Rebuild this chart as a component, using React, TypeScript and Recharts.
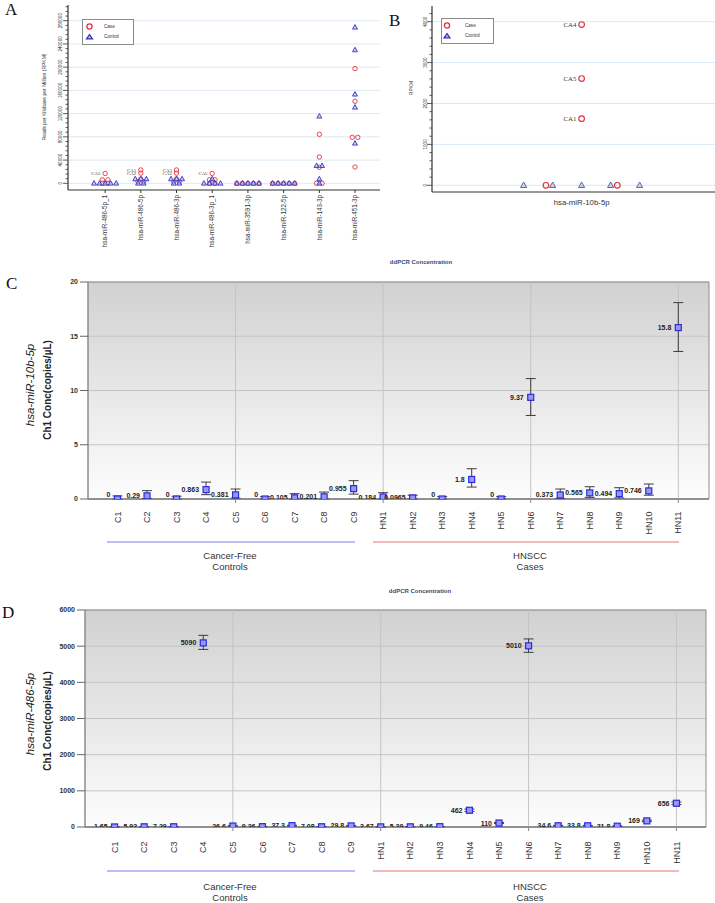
import React from "react";
import {
  CartesianGrid,
  ErrorBar,
  Legend,
  ReferenceArea,
  ReferenceLine,
  Scatter,
  ScatterChart,
  XAxis,
  YAxis,
} from "recharts";

// ---------- Panel A: small RNA-seq, cases vs controls ----------
const aCategories = [
  "hsa-miR-486-5p_1",
  "hsa-miR-486-5p",
  "hsa-miR-486-3p",
  "hsa-miR-486-3p_1",
  "hsa-miR-3591-3p",
  "hsa-miR-122-5p",
  "hsa-miR-143-3p",
  "hsa-miR-451-3p",
];
const aCase = [
  [17000, 6000, 6000, 0, 0],
  [23000, 17500, 7500, 3000, 3000],
  [23000, 17500, 7500, 3000, 3000],
  [17000, 6000, 6000, 0, 0],
  [0, 0, 0, 0, 0],
  [0, 0, 0, 0, 0],
  [84400, 45300, 27600, 0, 0],
  [197500, 141200, 79200, 79200, 28100],
];
const aCaseTags = [["CA5"], ["CA5", "CA2"], ["CA5", "CA2"], ["CA5"], [], [], [], []];
const aControl = [
  [0, 0, 0, 0, 0],
  [7500, 7500, 7500, 0, 0],
  [7500, 7500, 7500, 0, 0],
  [7500, 0, 0, 0, 0],
  [0, 0, 0, 0, 0],
  [0, 0, 0, 0, 0],
  [115400, 30400, 30400, 7500, 0],
  [268600, 229600, 153300, 130900, 68900],
];
const aMajorTicks = [0, 40000, 80000, 120000, 160000, 200000, 240000, 280000];

// ---------- Panel B: hsa-miR-10b-5p RPKM ----------
const bCategory = "hsa-miR-10b-5p";
const bCase = [3930, 2610, 1630, 0, 0];
const bCaseTags = ["CA4", "CA5", "CA1"];
const bControl = [0, 0, 0, 0, 0];
const bMajorTicks = [0, 1000, 2000, 3000, 4000];

// ---------- Panels C / D: ddPCR ----------
const ddSamples = [
  "C1", "C2", "C3", "C4", "C5", "C6", "C7", "C8", "C9",
  "HN1", "HN2", "HN3", "HN4", "HN5", "HN6", "HN7", "HN8", "HN9", "HN10", "HN11",
];
const cConc = [0, 0.29, 0, 0.863, 0.381, 0, 0.105, 0.201, 0.955, 0.184, 0.0965, 0, 1.8, 0, 9.37, 0.373, 0.565, 0.494, 0.746, 15.8];
const cLow = [0, 0.05, 0, 0.4, 0.08, 0, 0, 0, 0.45, 0, 0, 0, 1.1, 0, 7.7, 0.05, 0.15, 0.1, 0.35, 13.6];
const cHigh = [0.28, 0.77, 0.25, 1.56, 0.92, 0.22, 0.49, 0.64, 1.69, 0.58, 0.35, 0.22, 2.79, 0.22, 11.1, 0.92, 1.13, 1.04, 1.38, 18.1];
const cTicks = [0, 5, 10, 15, 20];

const dConc = [1.65, 5.93, 7.29, 5090, 26.6, 9.36, 37.3, 7.08, 29.8, 3.67, 5.39, 9.46, 462, 110, 5010, 34.6, 33.8, 21.8, 169, 656];
const dLow = [0.5, 3.5, 4.5, 4910, 18, 6, 27, 4.5, 21, 1.8, 3, 6, 430, 95, 4830, 25, 24, 14, 150, 620];
const dHigh = [3, 8.5, 10, 5300, 36, 13, 48, 10, 39, 5.8, 8, 13, 495, 126, 5200, 45, 44, 30, 190, 692];
const dTicks = [0, 1000, 2000, 3000, 4000, 5000, 6000];

const groupBreaks = [4, 9, 14, 19];

const sans = "'Liberation Sans', Arial, sans-serif";
const serif = "'Liberation Serif', 'Times New Roman', serif";

// spread identical values side by side (simple beeswarm)
function swarm(vals: number[], step: number) {
  const counts = new Map<number, number>();
  vals.forEach((v) => counts.set(v, (counts.get(v) ?? 0) + 1));
  const seen = new Map<number, number>();
  return vals.map((v) => {
    const n = counts.get(v) ?? 1;
    const k = seen.get(v) ?? 0;
    seen.set(v, k + 1);
    return (k - (n - 1) / 2) * step;
  });
}

const aCaseData = aCategories.flatMap((_, i) => {
  const off = swarm(aCase[i], 0.155);
  return aCase[i].map((v, k) => ({ x: i + off[k], y: v, tag: aCaseTags[i][k] ?? "" }));
});
const aControlData = aCategories.flatMap((_, i) => {
  const off = swarm(aControl[i], 0.155);
  return aControl[i].map((v, k) => ({ x: i + off[k], y: v }));
});

const bCaseOff = swarm(bCase, 2.46);
const bCaseData = bCase.map((v, k) => ({ x: bCaseOff[k], y: v, tag: bCaseTags[k] ?? "" }));
const bControlOff = swarm(bControl, 1);
const bControlData = bControl.map((v, k) => ({ x: bControlOff[k], y: v }));

const cData = ddSamples.map((_, i) => ({
  x: i,
  y: cConc[i],
  err: [cConc[i] - cLow[i], cHigh[i] - cConc[i]],
  label: String(cConc[i]),
}));
const dData = ddSamples.map((_, i) => ({
  x: i,
  y: dConc[i],
  err: [dConc[i] - dLow[i], dHigh[i] - dConc[i]],
  label: String(dConc[i]),
}));

const range = (a: number, b: number, s: number) => {
  const out: number[] = [];
  for (let v = a; v <= b; v += s) out.push(v);
  return out;
};

// ---------- shapes ----------
const caseCircle = (r: number, sw: number, fs: number) => (p: any) => (
  <g>
    <circle cx={p.cx} cy={p.cy} r={r} fill="none" stroke="#e4323c" strokeWidth={sw} />
    {p.payload?.tag ? (
      <text x={p.cx - r - 2.5} y={p.cy + fs * 0.35} textAnchor="end" fontSize={fs} fontFamily={serif} fill="#333">
        {p.payload.tag}
      </text>
    ) : null}
  </g>
);

const controlTriangle = (s: number, fill: string, stroke: string) => (p: any) => (
  <polygon
    points={`${p.cx},${p.cy - s * 0.6} ${p.cx - s * 0.55},${p.cy + s * 0.4} ${p.cx + s * 0.55},${p.cy + s * 0.4}`}
    fill={fill}
    fillOpacity={0.6}
    stroke={stroke}
    strokeWidth={0.9}
  />
);

const sampleMarker = (p: any) => {
  const raise = p.payload?.y === 0 ? -5 : 0;
  return (
    <g>
      <rect x={p.cx - 3} y={p.cy - 3} width={6} height={6} fill="#9797f4" stroke="#2b2bd9" strokeWidth={1.2} />
      <text x={p.cx - 7} y={p.cy + 2.5 + raise} textAnchor="end" fontSize={7} fontWeight={700} fill="#222" fontFamily={sans}>
        {p.payload?.label}
      </text>
    </g>
  );
};

// ---------- ticks ----------
const makeYTick = (majors: number[], labelGap: number, fs: number) => (props: any) => {
  const { x, y, payload } = props;
  const isMajor = majors.includes(payload.value);
  const lx = x - labelGap;
  return (
    <g>
      <line x1={x} x2={x - (isMajor ? 5 : 2.5)} y1={y} y2={y} stroke="#333" strokeWidth={0.8} />
      {isMajor ? (
        <text x={lx} y={y} transform={`rotate(-90 ${lx} ${y})`} textAnchor="middle" dy="0.35em" fontSize={fs} fill="#333" fontFamily={sans}>
          {payload.value}
        </text>
      ) : null}
    </g>
  );
};

const mirTick = (props: any) => {
  const { x, y, payload } = props;
  return (
    <text x={x} y={y} transform={`rotate(-90 ${x} ${y})`} textAnchor="end" dy="0.35em" fontSize={6.3} fill="#333" fontFamily={sans}>
      {aCategories[payload.value]}
    </text>
  );
};

const sampleTick = (gap: number) => (props: any) => {
  const { x, y, payload } = props;
  const i = payload.value;
  const ty = y + gap;
  return (
    <g>
      {groupBreaks.includes(i) ? <line x1={x} x2={x} y1={y} y2={y + 4} stroke="#888" /> : null}
      <text x={x} y={ty} transform={`rotate(-90 ${x} ${ty})`} textAnchor="end" dy="0.35em" fontSize={9} fill="#333" fontFamily={sans}>
        {ddSamples[i]}
      </text>
    </g>
  );
};

const legendBox = (w: number, h: number, sx: number, tx: number) => (props: any) => {
  const items = props.payload ?? [];
  return (
    <svg width={w} height={h} style={{ display: "block" }}>
      <rect x={0.5} y={0.5} width={w - 1} height={h - 1} fill="#fff" stroke="#8a8a8a" />
      <circle cx={sx} cy={7.5} r={2.6} fill="none" stroke="#e4323c" strokeWidth={1.3} />
      <polygon
        points={`${sx},${15.5} ${sx - 3},${19.8} ${sx + 3},${19.8}`}
        fill="#b3b3f0"
        stroke="#2e2eb8"
        strokeWidth={1.2}
      />
      <text x={tx} y={9} fontSize={4.6} fontFamily={sans} fill="#333">
        {items[0]?.value ?? "Case"}
      </text>
      <text x={tx} y={19} fontSize={4.6} fontFamily={sans} fill="#333">
        {items[1]?.value ?? "Control"}
      </text>
    </svg>
  );
};

// ---------- panels ----------
function PanelA() {
  return (
    <div style={{ position: "absolute", left: 0, top: 0 }}>
      <ScatterChart width={385} height={255} margin={{ top: 5, right: 5, bottom: 0, left: 0 }}>
        <XAxis
          type="number"
          dataKey="x"
          domain={[-1.04, 7.7]}
          allowDataOverflow
          ticks={aCategories.map((_, i) => i)}
          interval={0}
          tickSize={3}
          tickMargin={2}
          tickLine={{ stroke: "#333" }}
          axisLine={{ stroke: "#333", strokeWidth: 1.2 }}
          height={65}
          tick={mirTick}
        />
        <YAxis
          type="number"
          dataKey="y"
          domain={[-11500, 307000]}
          allowDataOverflow
          ticks={range(0, 304000, 8000)}
          interval={0}
          width={68}
          tickLine={false}
          tickSize={0}
          tickMargin={0}
          axisLine={{ stroke: "#333", strokeWidth: 1.2 }}
          tick={makeYTick(aMajorTicks, 8, 4.6)}
        />
        {aMajorTicks.map((v) => (
          <ReferenceLine key={v} y={v} stroke="#dbe8f4" />
        ))}
        <Scatter name="Case" data={aCaseData} shape={caseCircle(2.2, 0.9, 4.8)} isAnimationActive={false} />
        <Scatter name="Control" data={aControlData} shape={controlTriangle(4.5, "#a9a9f2", "#3434c8")} isAnimationActive={false} />
        <Legend
          layout="vertical"
          align="center"
          verticalAlign="middle"
          wrapperStyle={{ left: 82, top: 19, width: 52, height: 26 }}
          content={legendBox(52, 26, 7.5, 22)}
        />
      </ScatterChart>
    </div>
  );
}

function PanelB() {
  return (
    <div style={{ position: "absolute", left: 400, top: 0 }}>
      <ScatterChart width={315} height={215} margin={{ top: 6, right: 0, bottom: 0, left: 0 }}>
        <XAxis
          type="number"
          dataKey="x"
          domain={[-5.16, 4.6]}
          allowDataOverflow
          ticks={[0]}
          interval={0}
          tickLine={false}
          tickSize={0}
          tickMargin={0}
          axisLine={{ stroke: "#333", strokeWidth: 1.2 }}
          height={23}
          tick={(p: any) => (
            <text x={p.x} y={p.y + 12.5} textAnchor="middle" fontSize={7.8} fill="#333" fontFamily={sans}>
              {bCategory}
            </text>
          )}
        />
        <YAxis
          type="number"
          dataKey="y"
          domain={[-164, 4384]}
          allowDataOverflow
          ticks={range(0, 4200, 200)}
          interval={0}
          width={32}
          tickLine={false}
          tickSize={0}
          tickMargin={0}
          axisLine={{ stroke: "#333", strokeWidth: 1.2 }}
          tick={makeYTick(bMajorTicks, 7, 4.6)}
        />
        {bMajorTicks.map((v) => (
          <ReferenceLine key={v} y={v} stroke="#dbe8f4" />
        ))}
        <Scatter name="Case" data={bCaseData} shape={caseCircle(2.8, 1.2, 6.8)} isAnimationActive={false} />
        <Scatter name="Control" data={bControlData} shape={controlTriangle(5.5, "#b4bedc", "#4a5a98")} isAnimationActive={false} />
        <Legend
          layout="vertical"
          align="center"
          verticalAlign="middle"
          wrapperStyle={{ left: 41, top: 18, width: 53, height: 26 }}
          content={legendBox(53, 26, 6, 24)}
        />
      </ScatterChart>
    </div>
  );
}

type DdProps = {
  top: number;
  marginTop: number;
  marginRight: number;
  yWidth: number;
  xHeight: number;
  xMax: number;
  yMax: number;
  yTicks: number[];
  data: any[];
  gid: string;
  tickGap: number;
};

function DdpcrPanel(p: DdProps) {
  return (
    <div style={{ position: "absolute", left: 0, top: p.top }}>
      <ScatterChart width={715} height={300} margin={{ top: p.marginTop, right: p.marginRight, bottom: 0, left: 0 }}>
        <defs>
          <linearGradient id={p.gid} x1="0" y1="0" x2="0" y2="1">
            <stop offset="0%" stopColor="#d1d1d1" />
            <stop offset="100%" stopColor="#fdfdfd" />
          </linearGradient>
        </defs>
        <CartesianGrid vertical={false} stroke="#c4c4c4" fill={`url(#${p.gid})`} fillOpacity={1} />
        <XAxis
          type="number"
          dataKey="x"
          domain={[-1, p.xMax]}
          allowDataOverflow
          ticks={ddSamples.map((_, i) => i)}
          interval={0}
          tickLine={false}
          tickSize={0}
          tickMargin={0}
          height={p.xHeight}
          axisLine={{ stroke: "#6a6a6a" }}
          tick={sampleTick(p.tickGap)}
        />
        <YAxis
          type="number"
          dataKey="y"
          domain={[0, p.yMax]}
          allowDataOverflow
          ticks={p.yTicks}
          interval={0}
          width={p.yWidth}
          tickSize={8}
          tickMargin={2}
          axisLine={{ stroke: "#8c8c8c" }}
          tickLine={{ stroke: "#666" }}
          tick={{ fontSize: 7, fontWeight: 700, fill: "#333", fontFamily: sans }}
        />
        {groupBreaks.map((i) => (
          <ReferenceLine key={i} x={i} stroke="#c4c4c4" />
        ))}
        <ReferenceArea x1={-1} x2={p.xMax} y1={0} y2={p.yMax} fill="none" stroke="#8c8c8c" />
        <Scatter data={p.data} shape={sampleMarker} isAnimationActive={false}>
          <ErrorBar dataKey="err" direction="y" width={5} stroke="#3c3c3c" strokeWidth={1} />
        </Scatter>
      </ScatterChart>
    </div>
  );
}

function GroupLabels({ lineY, y1, y2 }: { lineY: number; y1: number; y2: number }) {
  return (
    <g fontFamily={sans} fontSize={9.5} fill="#333" textAnchor="middle">
      <line x1={107} x2={355} y1={lineY} y2={lineY} stroke="#7d7dee" />
      <line x1={373} x2={679} y1={lineY} y2={lineY} stroke="#e87272" />
      <text x={230} y={y1}>Cancer-Free</text>
      <text x={230} y={y2}>Controls</text>
      <text x={530} y={y1}>HNSCC</text>
      <text x={530} y={y2}>Cases</text>
    </g>
  );
}

export default function App() {
  return (
    <div style={{ position: "absolute", left: 0, top: 0, width: 715, height: 903, background: "#fff", overflow: "hidden" }}>
      <PanelA />
      <PanelB />
      <DdpcrPanel
        top={270}
        marginTop={12}
        marginRight={6}
        yWidth={88}
        xHeight={71}
        xMax={20.04}
        yMax={20}
        yTicks={cTicks}
        data={cData}
        gid="bgC"
        tickGap={12.5}
      />
      <DdpcrPanel
        top={600}
        marginTop={10}
        marginRight={9}
        yWidth={85}
        xHeight={73}
        xMax={20}
        yMax={6000}
        yTicks={dTicks}
        data={dData}
        gid="bgD"
        tickGap={14.5}
      />
      <svg width={715} height={903} style={{ position: "absolute", left: 0, top: 0, pointerEvents: "none" }}>
        <g fontFamily={serif} fontSize={17} fill="#111">
          <text x={5} y={15}>A</text>
          <text x={389} y={26}>B</text>
          <text x={6} y={289}>C</text>
          <text x={2} y={618}>D</text>
        </g>
        <text transform="translate(44,97) rotate(-90)" textAnchor="middle" dy="0.35em" fontSize={5} fontFamily={sans} fill="#333">
          Reads per Kilobase per Million (RPKM)
        </text>
        <text transform="translate(411,88) rotate(-90)" textAnchor="middle" dy="0.35em" fontSize={5} fontFamily={sans} fill="#333">
          RPKM
        </text>
        <g fontFamily={sans} fontSize={6} fontWeight={700} fill="#3b4a6b" textAnchor="middle">
          <text x={421} y={264}>ddPCR Concentration</text>
          <text x={420} y={593}>ddPCR Concentration</text>
        </g>
        <g fontFamily={sans} fill="#222" textAnchor="middle">
          <text transform="translate(30,385) rotate(-90)" dy="0.35em" fontSize={11.5} fontStyle="italic">
            hsa-miR-10b-5p
          </text>
          <text transform="translate(47,390) rotate(-90)" dy="0.35em" fontSize={10} fontWeight={700}>
            Ch1 Conc(copies/µL)
          </text>
          <text transform="translate(30,714) rotate(-90)" dy="0.35em" fontSize={11.5} fontStyle="italic">
            hsa-miR-486-5p
          </text>
          <text transform="translate(47,721) rotate(-90)" dy="0.35em" fontSize={10} fontWeight={700}>
            Ch1 Conc(copies/µL)
          </text>
        </g>
        <GroupLabels lineY={542} y1={559} y2={570} />
        <GroupLabels lineY={871} y1={890} y2={901} />
      </svg>
    </div>
  );
}
